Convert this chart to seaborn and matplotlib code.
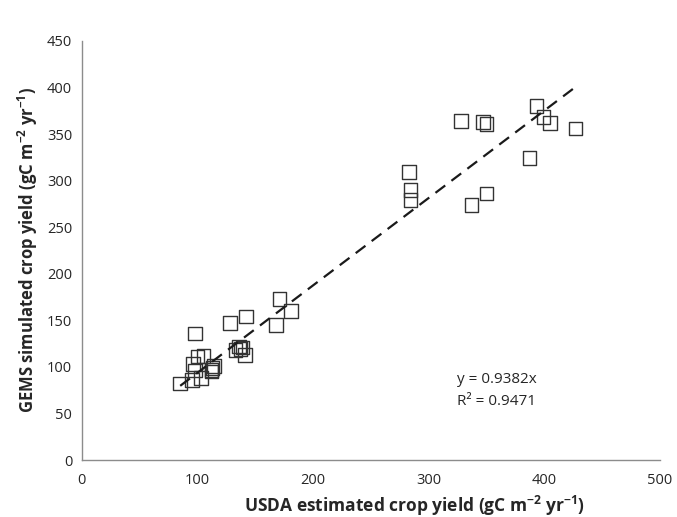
import numpy as np
import pandas as pd
import matplotlib
matplotlib.use("Agg")
import matplotlib.pyplot as plt
import seaborn as sns

# USDA estimated vs GEMS simulated crop yield (gC m-2 yr-1)
usda = [85, 95, 96, 98, 100, 103, 105, 98, 112, 113, 114, 112, 128, 142,
        133, 136, 139, 141, 137, 168, 171, 181,
        283, 284, 284, 328, 347, 350, 337, 350, 387, 393, 399, 405, 427]
gems = [82, 86, 103, 136, 111, 88, 112, 96, 95, 99, 101, 97, 147, 154,
        118, 122, 121, 113, 119, 145, 173, 160,
        309, 290, 279, 364, 363, 361, 274, 286, 324, 380, 368, 362, 356]
slope = 0.9382
r2 = 0.9471

df = pd.DataFrame({"usda": usda, "gems": gems})

sns.set_style("white")
plt.rcParams["font.family"] = ["Open Sans", "DejaVu Sans"]
plt.rcParams["mathtext.fontset"] = "custom"
plt.rcParams["mathtext.rm"] = "Open Sans"
plt.rcParams["mathtext.bf"] = "Open Sans:bold"
plt.rcParams["mathtext.default"] = "bf"

fig = plt.figure(figsize=(6.77, 5.17), dpi=100)
ax = fig.add_axes([0.121, 0.110, 0.854, 0.811])

sns.scatterplot(data=df, x="usda", y="gems", marker="s", s=95,
                facecolors="none", edgecolor="#333333", linewidth=1.0, ax=ax)

# trend line through origin across the data range
x_line = np.array([min(usda), max(usda)])
ax.plot(x_line, slope * x_line, color="#1a1a1a", lw=1.6, dashes=(5.5, 3.5))

ax.set_xlim(0, 500)
ax.set_ylim(0, 450)
ax.set_xticks(range(0, 501, 100))
ax.set_yticks(range(0, 451, 50))
for side in ["top", "right"]:
    ax.spines[side].set_visible(False)
for side in ["left", "bottom"]:
    ax.spines[side].set_color("#8c8c8c")
    ax.spines[side].set_linewidth(1.0)
ax.tick_params(axis="both", direction="out", length=4, width=1.0,
               color="#8c8c8c", labelsize=10.5, labelcolor="#262626", pad=3)
ax.tick_params(axis="x", pad=5)

ax.set_xlabel("USDA estimated crop yield (gC m$^{-2}$ yr$^{-1}$)",
              fontsize=12.5, fontweight="bold", color="#262626")
ax.set_ylabel("GEMS simulated crop yield (gC m$^{-2}$ yr$^{-1}$)",
              fontsize=12, fontweight="bold", color="#262626")
ax.xaxis.set_label_coords(0.575, -0.08)
ax.yaxis.set_label_coords(-0.073, 0.5)

ax.text(324, 86, f"y = {slope}x", fontsize=11, color="#262626", va="center")
ax.text(324, 63, f"R² = {r2}", fontsize=11, color="#262626", va="center")

fig.savefig("out.png", dpi=100)
